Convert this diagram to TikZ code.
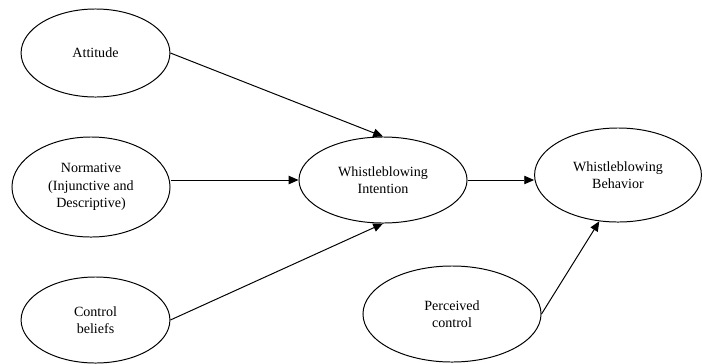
\documentclass[tikz,border=0pt]{standalone}
\usepackage{fontspec}
\setmainfont{Liberation Serif}
\usetikzlibrary{shapes.geometric, arrows.meta}

\tikzset{
  construct/.style={draw=black, ellipse, line width=0.7pt, inner sep=0pt,
    align=center, font=\fontsize{10}{12.5}\selectfont},
  path arrow/.style={-{Triangle[length=7pt, width=6pt]}, line width=0.7pt}
}

\begin{document}
\begin{tikzpicture}[x=0.025cm, y=-0.025cm]
    \useasboundingbox (0, 0) rectangle (702, 363);

    % Predictors
    \node[construct, minimum width=3.72cm, minimum height=2.2cm] (attitude) at (95.5, 53) {Attitude};

    \node[construct, minimum width=3.95cm, minimum height=2.5cm] (normative) at (91, 187)
      {Normative\\(Injunctive and\\Descriptive)};

    \node[construct, minimum width=3.72cm, minimum height=2.15cm] (control) at (95.5, 320) {Control\\beliefs};



    % Intention and behavior
    \node[construct, minimum width=4.2cm, minimum height=2.15cm] (intention) at (383, 180)
      {Whistleblowing\\Intention};

    \node[construct, minimum width=4.17cm, minimum height=2.35cm] (behavior) at (618, 175)
      {Whistleblowing\\Behavior};

    \node[construct, minimum width=4.45cm, minimum height=2.4cm] (perceived) at (452, 314)
      {Perceived\\control};



    % Paths
    \draw[path arrow] (attitude.east) -- (intention.north);

    \draw[path arrow] (normative.east |- intention.west) -- (intention.west);

    \draw[path arrow] (control.east) -- (intention.south);

    \draw[path arrow] (intention.east) -- (behavior.west |- intention.east);

    \draw[path arrow] (perceived.east) -- (behavior.248);
  \end{tikzpicture}
\end{document}
